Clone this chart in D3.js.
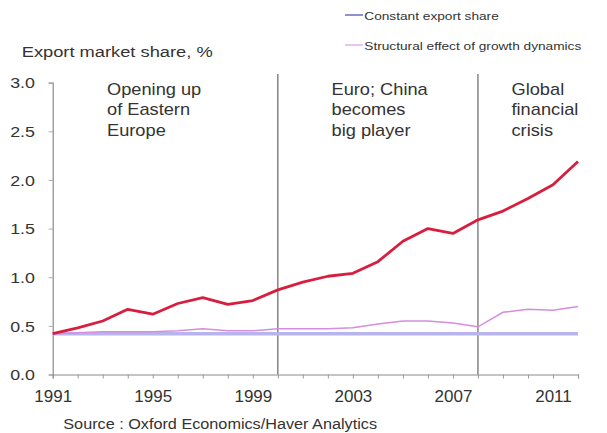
<!DOCTYPE html>
<html><head><meta charset="utf-8">
<script src="https://cdn.jsdelivr.net/npm/d3@7"></script>
<style>
html,body{margin:0;padding:0;background:#fff;}
text{font-family:"Liberation Sans",Arial,sans-serif;fill:#333;}
</style></head>
<body><svg id="c" width="607" height="433"></svg>
<script>
const years = d3.range(1991, 2013);
const exportShare = [0.42,0.48,0.55,0.67,0.62,0.73,0.79,0.72,0.76,0.87,0.95,1.01,1.04,1.16,1.37,1.50,1.45,1.59,1.68,1.81,1.95,2.19];
const structural = [0.42,0.43,0.44,0.44,0.44,0.45,0.47,0.45,0.45,0.47,0.47,0.47,0.48,0.52,0.55,0.55,0.53,0.49,0.64,0.67,0.66,0.70];
const constantShare = [0.42,0.42,0.42,0.42,0.42,0.42,0.42,0.42,0.42,0.42,0.42,0.42,0.42,0.42,0.42,0.42,0.42,0.42,0.42,0.42,0.42,0.42];
const yTicks = [0,0.5,1.0,1.5,2.0,2.5,3.0];
const xLabelYears = [1991,1995,1999,2003,2007,2011];
const eventYears = [2000,2008];
const annotations = [
  {year:1991, lines:["Opening up","of Eastern","Europe"]},
  {year:2000, lines:["Euro; China","becomes","big player"]},
  {year:2008, lines:["Global","financial","crisis"]}
];
const legendItems = [
  {label:"Constant export share", color:"#5454b4"},
  {label:"Structural effect of growth dynamics", color:"#e2a2ea"}
];

const svg = d3.select("#c");
const x = d3.scaleLinear().domain([1991,2012]).range([52.7,578]);
const y = d3.scaleLinear().domain([0,3]).range([374.5,82.7]);

// event lines
svg.selectAll(".ev").data(eventYears).enter().append("line")
  .attr("x1",d=>x(d)).attr("x2",d=>x(d)).attr("y1",74).attr("y2",y(0))
  .attr("stroke","#666").attr("stroke-width",1.2);

// axes
const ax = svg.append("g").attr("transform",`translate(0,${y(0)})`)
  .call(d3.axisBottom(x).tickValues(years).tickSize(4)
    .tickFormat(d=>xLabelYears.includes(d)?String(d):""));
ax.select(".domain").attr("stroke","#8a8a8a").attr("stroke-width",1.2);
ax.selectAll(".tick line").attr("stroke","#9a9a9a");
ax.selectAll(".tick text").attr("y",27.7).attr("dy",0)
  .attr("font-size","16.5px").attr("fill","#333")
  .attr("transform","scale(1.03,1)");

const ay = svg.append("g").attr("transform",`translate(${x(1991)},0)`)
  .call(d3.axisLeft(y).tickValues(yTicks).tickSize(4).tickPadding(11.5).tickFormat(d3.format(".1f")));
ay.select(".domain").attr("stroke","#8a8a8a").attr("stroke-width",1.2);
ay.selectAll(".tick line").attr("stroke","#aaa");
ay.selectAll(".tick text").attr("font-size","15.5px").attr("fill","#333")
  .attr("dy","0.34em").attr("transform","scale(1.15,1)");

// lines
const line = d3.line().x((d,i)=>x(years[i])).y(d=>y(d));
svg.append("path").datum(constantShare).attr("d",line)
  .attr("fill","none").attr("stroke","#b8b4ee").attr("stroke-width",3.5);
svg.append("path").datum(structural).attr("d",line)
  .attr("fill","none").attr("stroke","#d58ddc").attr("stroke-width",1.5);
svg.append("path").datum(exportShare).attr("d",line)
  .attr("fill","none").attr("stroke","#d81e3e").attr("stroke-width",2.8)
  .attr("stroke-linejoin","round");

// title
svg.append("text").attr("transform","translate(21.7,57) scale(1.18,1)")
  .attr("font-size","15.5px").text("Export market share, %");

// annotations
const annX = {1991:107, 2000:331.5, 2008:511.5};
annotations.forEach(a=>{
  const t = svg.append("text").attr("transform",`translate(${annX[a.year]},94.5) scale(1.14,1)`)
    .attr("font-size","16px");
  a.lines.forEach((l,i)=>t.append("tspan").attr("x",0).attr("y",i*21).text(l));
});

// legend
const lg = svg.append("g");
legendItems.forEach((it,i)=>{
  const yy = 15 + i*30;
  lg.append("line").attr("x1",345).attr("x2",363).attr("y1",yy).attr("y2",yy)
    .attr("stroke",it.color).attr("stroke-width",1.3);
  lg.append("text").attr("transform",`translate(364.3,${yy+4.5}) scale(1.2,1)`)
    .attr("font-size","11.4px").attr("fill","#444").text(it.label);
});

// source
svg.append("text").attr("transform","translate(63.3,429) scale(1.12,1)")
  .attr("font-size","14.5px").text("Source : Oxford Economics/Haver Analytics");
</script></body></html>
